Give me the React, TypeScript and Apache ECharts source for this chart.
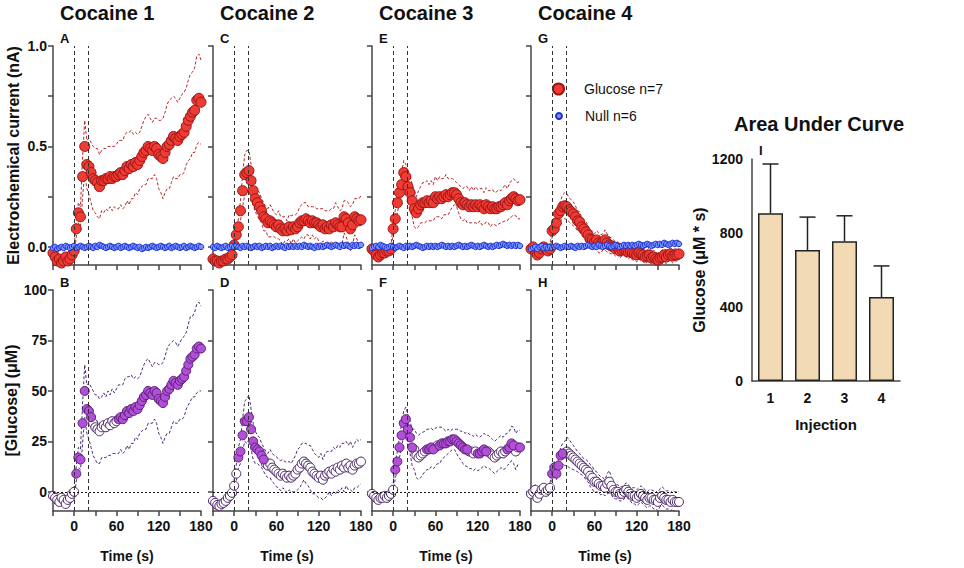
import React, { useEffect, useRef } from "react";
import * as echarts from "echarts";

// ---------------- data ----------------
const TIME = [
  -30, -27, -24, -21, -18, -15, -12, -9, -6, -3,
  0, 3, 6, 9, 12, 15, 18, 21, 24, 27,
  30, 33, 36, 39, 42, 45, 48, 51, 54, 57,
  60, 63, 66, 69, 72, 75, 78, 81, 84, 87,
  90, 93, 96, 99, 102, 105, 108, 111, 114, 117,
  120, 123, 126, 129, 132, 135, 138, 141, 144, 147,
  150, 153, 156, 159, 162, 165, 168, 171, 174, 177,
  180,
];

// Electrochemical current (nA), glucose sensor, mean and SEM
const CUR_MEAN_1 = [
  -0.03, -0.05, -0.07, -0.06, -0.08, -0.07, -0.05, -0.07, -0.06, -0.04,
  -0.02, 0.09, 0.17, 0.15, 0.35, 0.5, 0.41, 0.4, 0.37, 0.34,
  0.33, 0.32, 0.3, 0.33, 0.33, 0.34, 0.34, 0.35, 0.34, 0.35,
  0.35, 0.36, 0.37, 0.36, 0.38, 0.4, 0.39, 0.41, 0.4, 0.42,
  0.41, 0.43, 0.45, 0.47, 0.48, 0.5, 0.49, 0.48, 0.5, 0.49,
  0.46, 0.45, 0.44, 0.47, 0.5, 0.51, 0.53, 0.55, 0.54, 0.53,
  0.55, 0.56, 0.57, 0.6, 0.63, 0.65, 0.67, 0.68, 0.73, 0.74,
  0.72,
];
const CUR_SEM_1 = [
  0.02, 0.02, 0.025, 0.02, 0.025, 0.03, 0.025, 0.02, 0.025, 0.02,
  0.02, 0.04, 0.05, 0.05, 0.1, 0.13, 0.12, 0.14, 0.15, 0.16,
  0.16, 0.17, 0.16, 0.15, 0.16, 0.15, 0.16, 0.15, 0.16, 0.15,
  0.16, 0.17, 0.16, 0.17, 0.18, 0.17, 0.18, 0.17, 0.16, 0.15,
  0.15, 0.14, 0.15, 0.16, 0.17, 0.16, 0.15, 0.14, 0.14, 0.15,
  0.17, 0.18, 0.2, 0.2, 0.21, 0.22, 0.21, 0.2, 0.2, 0.19,
  0.19, 0.2, 0.2, 0.19, 0.2, 0.21, 0.2, 0.21, 0.22, 0.22,
  0.21,
];
const CUR_MEAN_2 = [
  -0.06, -0.07, -0.07, -0.08, -0.07, -0.07, -0.06, -0.06, -0.05, -0.04,
  0.01, 0.06, 0.1, 0.18, 0.28, 0.36, 0.37, 0.38, 0.33, 0.28,
  0.24, 0.22, 0.2, 0.18, 0.15, 0.14, 0.12, 0.13, 0.12, 0.11,
  0.1, 0.11, 0.09, 0.08, 0.09, 0.08, 0.1, 0.085, 0.1, 0.09,
  0.1, 0.12, 0.13, 0.13, 0.14, 0.13, 0.12, 0.13, 0.12, 0.12,
  0.11, 0.1, 0.11, 0.09, 0.1, 0.09, 0.11, 0.1, 0.12, 0.11,
  0.1, 0.1, 0.15, 0.14, 0.12, 0.09, 0.11, 0.15, 0.14, 0.13,
  0.135,
];
const CUR_SEM_2 = [
  0.015, 0.02, 0.015, 0.02, 0.015, 0.015, 0.02, 0.015, 0.02, 0.015,
  0.02, 0.03, 0.04, 0.05, 0.08, 0.1, 0.11, 0.1, 0.08, 0.07,
  0.07, 0.06, 0.07, 0.06, 0.07, 0.06, 0.07, 0.08, 0.07, 0.06,
  0.06, 0.07, 0.06, 0.07, 0.06, 0.05, 0.06, 0.07, 0.06, 0.07,
  0.07, 0.08, 0.08, 0.09, 0.08, 0.07, 0.08, 0.07, 0.08, 0.07,
  0.08, 0.09, 0.08, 0.09, 0.08, 0.09, 0.08, 0.09, 0.1, 0.09,
  0.08, 0.09, 0.08, 0.09, 0.1, 0.11, 0.1, 0.09, 0.1, 0.11,
  0.12,
];
const CUR_MEAN_3 = [
  -0.01, -0.02, -0.04, -0.05, -0.04, -0.03, -0.03, -0.02, -0.02, -0.01,
  0.09, 0.14, 0.22, 0.27, 0.31, 0.37, 0.35, 0.3, 0.27, 0.23,
  0.19, 0.17, 0.19, 0.21, 0.22, 0.22, 0.23, 0.22, 0.23, 0.22,
  0.25, 0.24, 0.25, 0.24, 0.25, 0.26, 0.25, 0.26, 0.27, 0.27,
  0.26, 0.24, 0.22, 0.21, 0.22, 0.21, 0.2, 0.21, 0.2, 0.21,
  0.2, 0.21, 0.2, 0.19, 0.21, 0.2, 0.19, 0.2, 0.19, 0.19,
  0.2, 0.2, 0.21, 0.22, 0.21, 0.23, 0.24, 0.25, 0.24, 0.23,
  0.235,
];
const CUR_SEM_3 = [
  0.015, 0.02, 0.015, 0.02, 0.015, 0.02, 0.015, 0.015, 0.02, 0.015,
  0.03, 0.04, 0.05, 0.05, 0.06, 0.06, 0.06, 0.07, 0.09, 0.08,
  0.09, 0.08, 0.09, 0.09, 0.1, 0.1, 0.1, 0.09, 0.1, 0.09,
  0.1, 0.09, 0.1, 0.1, 0.09, 0.1, 0.09, 0.08, 0.07, 0.06,
  0.06, 0.07, 0.08, 0.08, 0.08, 0.09, 0.08, 0.09, 0.08, 0.09,
  0.085, 0.08, 0.09, 0.08, 0.085, 0.08, 0.09, 0.085, 0.08, 0.085,
  0.085, 0.08, 0.085, 0.09, 0.08, 0.085, 0.09, 0.09, 0.085, 0.09,
  0.095,
];
const CUR_MEAN_4 = [
  -0.01, 0.0, -0.02, -0.04, -0.03, -0.01, 0.0, -0.01, -0.02, -0.01,
  0.08, 0.09, 0.12, 0.165, 0.18, 0.2, 0.205, 0.2, 0.185, 0.175,
  0.165, 0.15, 0.13, 0.125, 0.1, 0.09, 0.075, 0.06, 0.04, 0.035,
  0.025, 0.035, 0.02, 0.015, 0.025, 0.035, 0.02, 0.01, 0.005, 0.0,
  -0.01, -0.005, -0.02, -0.015, -0.01, -0.02, -0.025, -0.02, -0.03, -0.035,
  -0.04, -0.03, -0.035, -0.04, -0.05, -0.045, -0.04, -0.055, -0.05, -0.06,
  -0.065, -0.055, -0.05, -0.04, -0.05, -0.04, -0.035, -0.045, -0.04, -0.04,
  -0.035,
];
const CUR_SEM_4 = [
  0.015, 0.015, 0.02, 0.015, 0.02, 0.015, 0.015, 0.02, 0.015, 0.015,
  0.03, 0.03, 0.03, 0.04, 0.05, 0.06, 0.065, 0.065, 0.06, 0.06,
  0.06, 0.055, 0.05, 0.05, 0.045, 0.045, 0.05, 0.045, 0.04, 0.045,
  0.04, 0.045, 0.05, 0.045, 0.04, 0.05, 0.045, 0.04, 0.04, 0.035,
  0.035, 0.03, 0.035, 0.03, 0.035, 0.03, 0.035, 0.03, 0.035, 0.03,
  0.035, 0.03, 0.035, 0.03, 0.035, 0.03, 0.035, 0.03, 0.035, 0.03,
  0.035, 0.03, 0.035, 0.03, 0.035, 0.03, 0.03, 0.035, 0.03, 0.03,
  0.03,
];

// Null sensor current (nA)
const NULL_1 = [
  -0.005, 0.0, -0.01, -0.005, 0.0, -0.005, 0.005, 0.0, -0.005, 0.0,
  0.005, -0.005, 0.0, 0.005, 0.0, -0.005, 0.0, 0.005, 0.0, -0.005,
  0.005, 0.0, 0.01, 0.005, 0.0, -0.005, 0.0, 0.005, 0.0, -0.005,
  0.0, 0.005, -0.005, 0.0, 0.005, 0.0, -0.005, 0.0, 0.005, 0.0,
  -0.005, 0.0, -0.01, -0.005, 0.0, -0.005, 0.0, 0.005, 0.0, -0.005,
  0.0, 0.005, 0.0, -0.005, 0.0, 0.005, -0.005, 0.0, 0.005, 0.0,
  -0.005, 0.0, 0.005, -0.005, 0.0, 0.005, 0.0, -0.005, 0.0, 0.005,
  0.0,
];
const NULL_2 = [
  0.0, -0.005, 0.005, 0.0, -0.005, 0.0, 0.005, -0.005, 0.0, 0.005,
  0.0, 0.005, 0.0, -0.005, 0.005, 0.0, 0.005, 0.0, -0.005, 0.0,
  0.005, 0.0, 0.005, -0.005, 0.0, 0.005, 0.0, 0.005, -0.005, 0.0,
  0.005, 0.0, 0.005, 0.0, -0.005, 0.005, 0.0, 0.005, 0.0, 0.005,
  0.0, 0.005, 0.0, 0.01, 0.005, 0.0, 0.005, 0.0, -0.005, 0.005,
  0.0, 0.005, 0.0, 0.005, 0.01, 0.005, 0.0, 0.005, 0.01, 0.005,
  0.0, 0.01, 0.005, 0.01, 0.005, 0.0, 0.01, 0.005, 0.01, 0.005,
  0.01,
];
const NULL_3 = [
  -0.005, 0.0, 0.005, 0.0, 0.01, 0.005, 0.0, -0.005, 0.0, 0.005,
  0.0, -0.005, 0.0, 0.005, 0.0, -0.005, 0.005, 0.0, 0.005, 0.0,
  0.005, 0.01, 0.005, 0.0, -0.005, 0.0, 0.005, 0.0, 0.005, 0.0,
  0.005, 0.0, 0.005, 0.01, 0.005, 0.0, 0.005, 0.0, 0.005, 0.0,
  0.005, 0.01, 0.005, 0.0, 0.005, 0.0, 0.005, 0.01, 0.005, 0.0,
  0.005, 0.0, 0.005, 0.01, 0.005, 0.0, 0.005, 0.0, 0.005, 0.01,
  0.005, 0.01, 0.015, 0.01, 0.005, 0.01, 0.005, 0.01, 0.005, 0.01,
  0.005,
];
const NULL_4 = [
  -0.01, -0.005, 0.0, -0.01, 0.0, 0.005, -0.005, 0.0, -0.005, 0.0,
  -0.005, 0.0, 0.005, 0.0, -0.005, 0.0, 0.005, 0.0, 0.0, 0.005,
  0.0, -0.005, 0.005, 0.0, 0.005, 0.0, 0.005, 0.01, 0.005, 0.0,
  0.005, 0.0, 0.01, 0.005, 0.0, 0.005, 0.01, 0.005, 0.0, 0.005,
  0.01, 0.005, 0.0, 0.005, 0.01, 0.005, 0.01, 0.005, 0.01, 0.005,
  0.01, 0.015, 0.01, 0.005, 0.01, 0.015, 0.01, 0.005, 0.01, 0.015,
  0.01, 0.015, 0.01, 0.02, 0.015, 0.01, 0.015, 0.02, 0.015, 0.02,
  0.015,
];

// [Glucose] (µM), mean and SEM
const GLU_MEAN_1 = [
  -2, -3, -4, -5, -3, -4, -6, -4, -3, -1,
  0, 9, 17, 16, 34, 50, 41, 40, 37, 34,
  32, 31, 30, 32, 33, 32, 34, 33, 35, 34,
  35, 36, 37, 36, 38, 40, 39, 41, 40, 42,
  41, 43, 45, 47, 48, 50, 49, 48, 50, 49,
  46, 45, 44, 47, 50, 51, 53, 55, 54, 53,
  55, 56, 57, 60, 63, 66, 67, 68, 71, 72,
  71,
];
const GLU_SEM_1 = [
  2, 2, 2.5, 2, 2.5, 3, 2.5, 2, 2.5, 2,
  2, 4, 5, 5, 10, 13, 12, 14, 15, 16,
  16, 17, 16, 15, 16, 15, 16, 15, 16, 15,
  16, 17, 16, 17, 18, 17, 18, 17, 16, 15,
  15, 14, 15, 16, 17, 16, 15, 14, 14, 15,
  17, 18, 20, 20, 21, 22, 21, 20, 20, 19,
  19, 20, 20, 19, 20, 21, 20, 21, 22, 22,
  21,
];
const GLU_MEAN_2 = [
  -4.5, -5.5, -6.5, -7, -6, -5.5, -4.5, -3, -2, -0.5,
  3, 9, 17, 20, 28, 35, 35, 37, 31, 25,
  22, 21, 20, 18, 16, 14, 13, 14, 12, 11,
  10, 9, 8, 9, 8, 7, 8, 7, 8, 9,
  11, 12, 14, 15, 14, 13, 12, 10, 9, 8,
  7, 8, 6, 8, 9, 10, 9, 11, 10, 12,
  11, 13, 12, 14, 12, 13, 11, 13, 14, 14,
  15,
];
const GLU_SEM_2 = [
  2, 2, 2.5, 2, 2, 2.5, 2, 2, 2.5, 2,
  3, 4, 5, 6, 8, 10, 11, 11, 10, 9,
  8, 7, 7, 6, 6, 6, 6, 7, 7, 7,
  7.5, 7, 7.5, 7, 7, 7.5, 7, 7, 8, 9,
  10, 10, 10, 9, 10, 10, 11, 11, 10, 10,
  10, 11, 10, 11, 11, 10, 11, 11, 11, 11,
  11, 11, 12, 11, 11, 12, 11, 11, 12, 11,
  11,
];
const GLU_MEAN_3 = [
  -1, -2, -3, -4, -3, -3, -2, -3, -2, -1,
  1, 11, 15, 22, 28, 34, 36, 31, 27, 22,
  21, 18, 17, 18, 19, 20, 21, 21, 22, 21,
  22, 23, 23, 24, 24, 24, 25, 25, 26, 26,
  25, 24, 23, 22, 21, 21, 20, 20, 19, 20,
  19, 19, 20, 21, 20, 20, 19, 18, 17, 18,
  19, 20, 19, 20, 21, 22, 24, 23, 20, 22,
  22,
];
const GLU_SEM_3 = [
  2, 2, 2, 2.5, 2, 2, 2, 2.5, 2, 2,
  3, 4, 5, 5, 6, 6, 6, 7, 8, 9,
  10, 11, 11, 11, 10.5, 10, 10, 10, 9.5, 9.5,
  9.5, 9, 9, 8, 7, 6, 6, 5, 5, 5,
  6, 7, 7, 8, 8, 8.5, 8.5, 8.5, 8.5, 8.5,
  8.5, 8, 8, 8, 8, 8, 8, 8, 8, 8,
  8, 8, 8, 8.5, 8, 8, 8.5, 9, 9, 8.5,
  8.5,
];
const GLU_MEAN_4 = [
  -1, 0, 1, -3, -1, 1, 2, 0, 1, 2,
  9, 12, 9, 13, 18, 19, 19, 20, 19, 18,
  17, 16, 15, 14, 13, 12, 11, 10, 8, 7,
  5, 5, 4, 3, 3, 2, 4, 5, 3, 1,
  0, 0, -1, -1, 0, 1, 0, -1, -2, -2,
  -3, -2, -1, -2, -3, -4, -3, -3, -4, -4,
  -5, -3, -2, -3, -4, -4, -5, -4, -5, -5,
  -5,
];
const GLU_SEM_4 = [
  2, 2, 2.5, 2, 2, 2.5, 2, 2, 2.5, 2,
  3, 3, 3, 3.5, 4, 5, 6, 7, 7, 6.5,
  6, 5.5, 5, 5, 4.5, 4.5, 5, 5, 5.5, 5.5,
  5.5, 5, 4.5, 4.5, 4, 4, 5, 5.5, 4.5, 4,
  3.5, 3.5, 3.5, 3.5, 3.5, 3.5, 3.5, 3.5, 4, 4,
  4, 4, 4, 4, 4, 4, 4, 4, 4.5, 4.5,
  4.5, 4.5, 4.5, 4.5, 4.5, 4.5, 4.5, 4.5, 5, 5,
  5,
];

// time ranges (s) where glucose differs significantly from baseline (filled symbols)
const SIG_1 = [[3, 24], [63, 180]];
const SIG_2 = [[6, 42]];
const SIG_3 = [[3, 27], [48, 57], [66, 105], [120, 132], [162, 171], [180, 180]];
const SIG_4 = [[0, 15]];

// Area under curve
const AUC_CATEGORIES = ["1", "2", "3", "4"];
const AUC_MEAN = [907, 708, 755, 454];
const AUC_SEM = [266, 178, 138, 168];

const PANEL_TITLES = ["Cocaine 1", "Cocaine 2", "Cocaine 3", "Cocaine 4"];
const TOP_LETTERS = ["A", "C", "E", "G"];
const BOTTOM_LETTERS = ["B", "D", "F", "H"];
const X_TICKS = [-30, 0, 30, 60, 90, 120, 150, 180];
const X_LABELS = [0, 60, 120, 180];
const CUR_TICKS = [0, 0.25, 0.5, 0.75, 1.0];
const CUR_LABELS = [0, 0.5, 1.0];
const GLU_TICKS = [0, 25, 50, 75, 100];

// ---------------- layout / style ----------------
const FONT = "'Liberation Sans', Arial, Helvetica, sans-serif";
const NARROW = "'Liberation Sans Narrow', 'Arial Narrow', 'Liberation Sans', sans-serif";
const PANEL_LEFT = [53, 213, 372, 531];
const GRID_W = 148;
const AXIS_COLOR = "#444";
const TEXT_COLOR = "#111";

const CUR_SETS = [
  [CUR_MEAN_1, CUR_SEM_1, NULL_1],
  [CUR_MEAN_2, CUR_SEM_2, NULL_2],
  [CUR_MEAN_3, CUR_SEM_3, NULL_3],
  [CUR_MEAN_4, CUR_SEM_4, NULL_4],
];
const GLU_SETS = [
  [GLU_MEAN_1, GLU_SEM_1, SIG_1],
  [GLU_MEAN_2, GLU_SEM_2, SIG_2],
  [GLU_MEAN_3, GLU_SEM_3, SIG_3],
  [GLU_MEAN_4, GLU_SEM_4, SIG_4],
];

const pts = (ys: number[]) => TIME.map((t, k) => [t, ys[k]]);
const band = (m: number[], s: number[], sign: number) =>
  TIME.map((t, k) => [t, +(m[k] + sign * s[k]).toFixed(4)]);
const inRanges = (t: number, r: number[][]) => r.some(([a, b]) => t >= a && t <= b);

function axisLineStyle() {
  return { show: true, onZero: false, lineStyle: { color: AXIS_COLOR, width: 1.5 } };
}

function buildOption() {
  const grid: any[] = [];
  const xAxis: any[] = [];
  const yAxis: any[] = [];
  const series: any[] = [];
  const graphic: any[] = [];

  const vLines = {
    silent: true,
    symbol: ["none", "none"],
    label: { show: false },
    lineStyle: { color: "#333", type: [4, 3], width: 1 },
    data: [{ xAxis: 0 }, { xAxis: 20 }],
  };

  for (let i = 0; i < 4; i++) {
    // ---- top row: electrochemical current ----
    const gi = grid.length;
    grid.push({ left: PANEL_LEFT[i], top: 46, width: GRID_W, height: 219 });
    xAxis.push({
      type: "value", gridIndex: gi, min: -30, max: 180,
      axisLine: axisLineStyle(),
      axisTick: { length: 5, lineStyle: { color: AXIS_COLOR, width: 1.5 }, customValues: X_TICKS },
      axisLabel: { show: false },
      splitLine: { show: false },
    });
    yAxis.push({
      type: "value", gridIndex: gi, min: -0.09, max: 1.0,
      axisLine: axisLineStyle(),
      axisTick: { length: 5, lineStyle: { color: AXIS_COLOR, width: 1.5 }, customValues: CUR_TICKS },
      axisLabel: {
        show: i === 0, customValues: CUR_LABELS, margin: 6,
        formatter: (v: number) => v.toFixed(1),
        fontFamily: FONT, fontWeight: "bold", fontSize: 14, color: TEXT_COLOR,
      },
      splitLine: { show: false },
      name: i === 0 ? "Electrochemical current (nA)" : "",
      nameLocation: "middle", nameGap: 32,
      nameTextStyle: { fontFamily: FONT, fontWeight: "bold", fontSize: 16, color: TEXT_COLOR },
    });
    const [m, s, nul] = CUR_SETS[i];
    const lineBase = {
      type: "line", xAxisIndex: gi, yAxisIndex: gi, symbol: "none", silent: true, z: 2,
      lineStyle: { color: "#b3262a", width: 1, type: [3, 2] },
    };
    series.push({ ...lineBase, data: band(m, s, 1), markLine: vLines });
    series.push({ ...lineBase, data: band(m, s, -1) });
    series.push({
      type: "scatter", name: "Glucose n=7", xAxisIndex: gi, yAxisIndex: gi, z: 3,
      symbol: "circle", symbolSize: 10,
      itemStyle: { color: "#ee3b34", borderColor: "#9a1414", borderWidth: 1, opacity: 1 },
      data: pts(m),
    });
    series.push({
      type: "scatter", name: "Null n=6", xAxisIndex: gi, yAxisIndex: gi, z: 4,
      symbol: "circle", symbolSize: 5.5,
      itemStyle: { color: "#7a93ff", borderColor: "#1d31d2", borderWidth: 1, opacity: 1 },
      data: pts(nul),
    });

    // ---- bottom row: glucose concentration ----
    const bi = grid.length;
    grid.push({ left: PANEL_LEFT[i], top: 290, width: GRID_W, height: 221 });
    xAxis.push({
      type: "value", gridIndex: bi, min: -30, max: 180,
      axisLine: axisLineStyle(),
      axisTick: { length: 5, lineStyle: { color: AXIS_COLOR, width: 1.5 }, customValues: X_TICKS },
      axisLabel: {
        show: true, customValues: X_LABELS, margin: 8,
        fontFamily: FONT, fontWeight: "bold", fontSize: 14, color: TEXT_COLOR,
      },
      splitLine: { show: false },
      name: "Time (s)", nameLocation: "middle", nameGap: 38,
      nameTextStyle: { fontFamily: FONT, fontWeight: "bold", fontSize: 14, color: TEXT_COLOR },
    });
    yAxis.push({
      type: "value", gridIndex: bi, min: -9.5, max: 100,
      axisLine: axisLineStyle(),
      axisTick: { length: 5, lineStyle: { color: AXIS_COLOR, width: 1.5 }, customValues: GLU_TICKS },
      axisLabel: {
        show: i === 0, customValues: GLU_TICKS, margin: 6,
        fontFamily: FONT, fontWeight: "bold", fontSize: 14, color: TEXT_COLOR,
      },
      splitLine: { show: false },
      name: i === 0 ? "[Glucose] (\u03bcM)" : "",
      nameLocation: "middle", nameGap: 32,
      nameTextStyle: { fontFamily: FONT, fontWeight: "bold", fontSize: 16, color: TEXT_COLOR },
    });
    const [gm, gs, sig] = GLU_SETS[i] as [number[], number[], number[][]];
    const gLine = {
      type: "line", xAxisIndex: bi, yAxisIndex: bi, symbol: "none", silent: true, z: 2,
      lineStyle: { color: "#4d2a72", width: 1, type: [3, 2] },
    };
    series.push({ ...gLine, data: band(gm, gs, 1), markLine: vLines });
    series.push({
      ...gLine, data: band(gm, gs, -1),
      markLine: {
        silent: true, symbol: ["none", "none"], label: { show: false },
        lineStyle: { color: "#111", type: [2, 2], width: 1 },
        data: [{ yAxis: 0 }],
      },
    });
    const filled: number[][] = [];
    const open: number[][] = [];
    TIME.forEach((t, k) => {
      (inRanges(t, sig) ? filled : open).push([t, gm[k]]);
    });
    series.push({
      type: "scatter", xAxisIndex: bi, yAxisIndex: bi, z: 3, symbol: "circle", symbolSize: 9,
      itemStyle: { color: "#ffffff", borderColor: "#4a2466", borderWidth: 1, opacity: 1 },
      data: open,
    });
    series.push({
      type: "scatter", xAxisIndex: bi, yAxisIndex: bi, z: 4, symbol: "circle", symbolSize: 9,
      itemStyle: { color: "#b24fd7", borderColor: "#5a1f78", borderWidth: 1, opacity: 1 },
      data: filled,
    });

    graphic.push({
      type: "text", left: PANEL_LEFT[i] + 55 - 48, top: 3,
      style: { text: PANEL_TITLES[i], font: `bold 20px ${FONT}`, fill: TEXT_COLOR },
    });
    graphic.push({
      type: "text", left: PANEL_LEFT[i] + 7, top: 32,
      style: { text: TOP_LETTERS[i], font: `bold 13px ${FONT}`, fill: TEXT_COLOR },
    });
    graphic.push({
      type: "text", left: PANEL_LEFT[i] + 7, top: 276,
      style: { text: BOTTOM_LETTERS[i], font: `bold 13px ${FONT}`, fill: TEXT_COLOR },
    });
  }

  // ---- bar chart: area under curve ----
  const ai = grid.length;
  grid.push({ left: 752, top: 159, width: 148, height: 222 });
  xAxis.push({
    type: "category", gridIndex: ai, data: AUC_CATEGORIES,
    axisLine: axisLineStyle(),
    axisTick: { alignWithLabel: true, length: 5, lineStyle: { color: AXIS_COLOR, width: 1.5 } },
    axisLabel: { margin: 10, fontFamily: FONT, fontWeight: "bold", fontSize: 14, color: TEXT_COLOR },
    name: "Injection", nameLocation: "middle", nameGap: 36,
    nameTextStyle: { fontFamily: FONT, fontWeight: "bold", fontSize: 15, color: TEXT_COLOR },
  });
  yAxis.push({
    type: "value", gridIndex: ai, min: 0, max: 1200, interval: 400,
    axisLine: axisLineStyle(),
    axisTick: { length: 7, lineStyle: { color: AXIS_COLOR, width: 1.5 } },
    axisLabel: {
      margin: 9, fontFamily: FONT, fontWeight: "bold", fontSize: 14, color: TEXT_COLOR,
      formatter: (v: number) => String(v),
    },
    splitLine: { show: false },
    name: "Glucose (\u03bcM * s)", nameLocation: "middle", nameGap: 42,
    nameTextStyle: { fontFamily: FONT, fontWeight: "bold", fontSize: 16, color: TEXT_COLOR },
  });
  series.push({
    type: "bar", xAxisIndex: ai, yAxisIndex: ai, barWidth: 25, z: 2,
    itemStyle: { color: "#f1dab4", borderColor: "#222", borderWidth: 1.5 },
    data: AUC_MEAN,
  });
  series.push({
    type: "custom", xAxisIndex: ai, yAxisIndex: ai, z: 3, silent: true,
    data: AUC_MEAN.map((v, k) => [k, v, v + AUC_SEM[k]]),
    renderItem: (_p: any, api: any) => {
      const base = api.coord([api.value(0), api.value(1)]);
      const top = api.coord([api.value(0), api.value(2)]);
      const st = { stroke: "#222", lineWidth: 1.5 };
      return {
        type: "group",
        children: [
          { type: "line", shape: { x1: base[0], y1: base[1], x2: top[0], y2: top[1] }, style: st },
          { type: "line", shape: { x1: top[0] - 8, y1: top[1], x2: top[0] + 8, y2: top[1] }, style: st },
        ],
      };
    },
  });
  graphic.push({
    type: "text", left: 734, top: 114,
    style: { text: "Area Under Curve", font: `bold 20px ${FONT}`, fill: TEXT_COLOR },
  });
  graphic.push({
    type: "text", left: 759, top: 144,
    style: { text: "I", font: `bold 13px ${FONT}`, fill: TEXT_COLOR },
  });

  const legendText = { fontFamily: NARROW, fontSize: 14, color: TEXT_COLOR };
  const legend = [
    {
      data: ["Glucose n=7"], left: 552, top: 82, padding: 0, selectedMode: false,
      itemWidth: 11, itemHeight: 11,
      textStyle: { ...legendText, padding: [0, 0, 0, 15] },
    },
    {
      data: ["Null n=6"], left: 555, top: 109, padding: 0, selectedMode: false,
      itemWidth: 6, itemHeight: 6,
      textStyle: { ...legendText, padding: [0, 0, 0, 18] },
    },
  ];

  return {
    animation: false,
    backgroundColor: "#ffffff",
    textStyle: { fontFamily: FONT },
    grid, xAxis, yAxis, series, graphic, legend,
  };
}

export default function App() {
  const ref = useRef<HTMLDivElement>(null);
  useEffect(() => {
    if (!ref.current) return;
    const chart = echarts.init(ref.current, null, { renderer: "svg" });
    chart.setOption(buildOption() as any);
    return () => chart.dispose();
  }, []);
  return (
    <div
      ref={ref}
      style={{ position: "fixed", left: 0, top: 0, width: 964, height: 568, background: "#fff" }}
    />
  );
}
